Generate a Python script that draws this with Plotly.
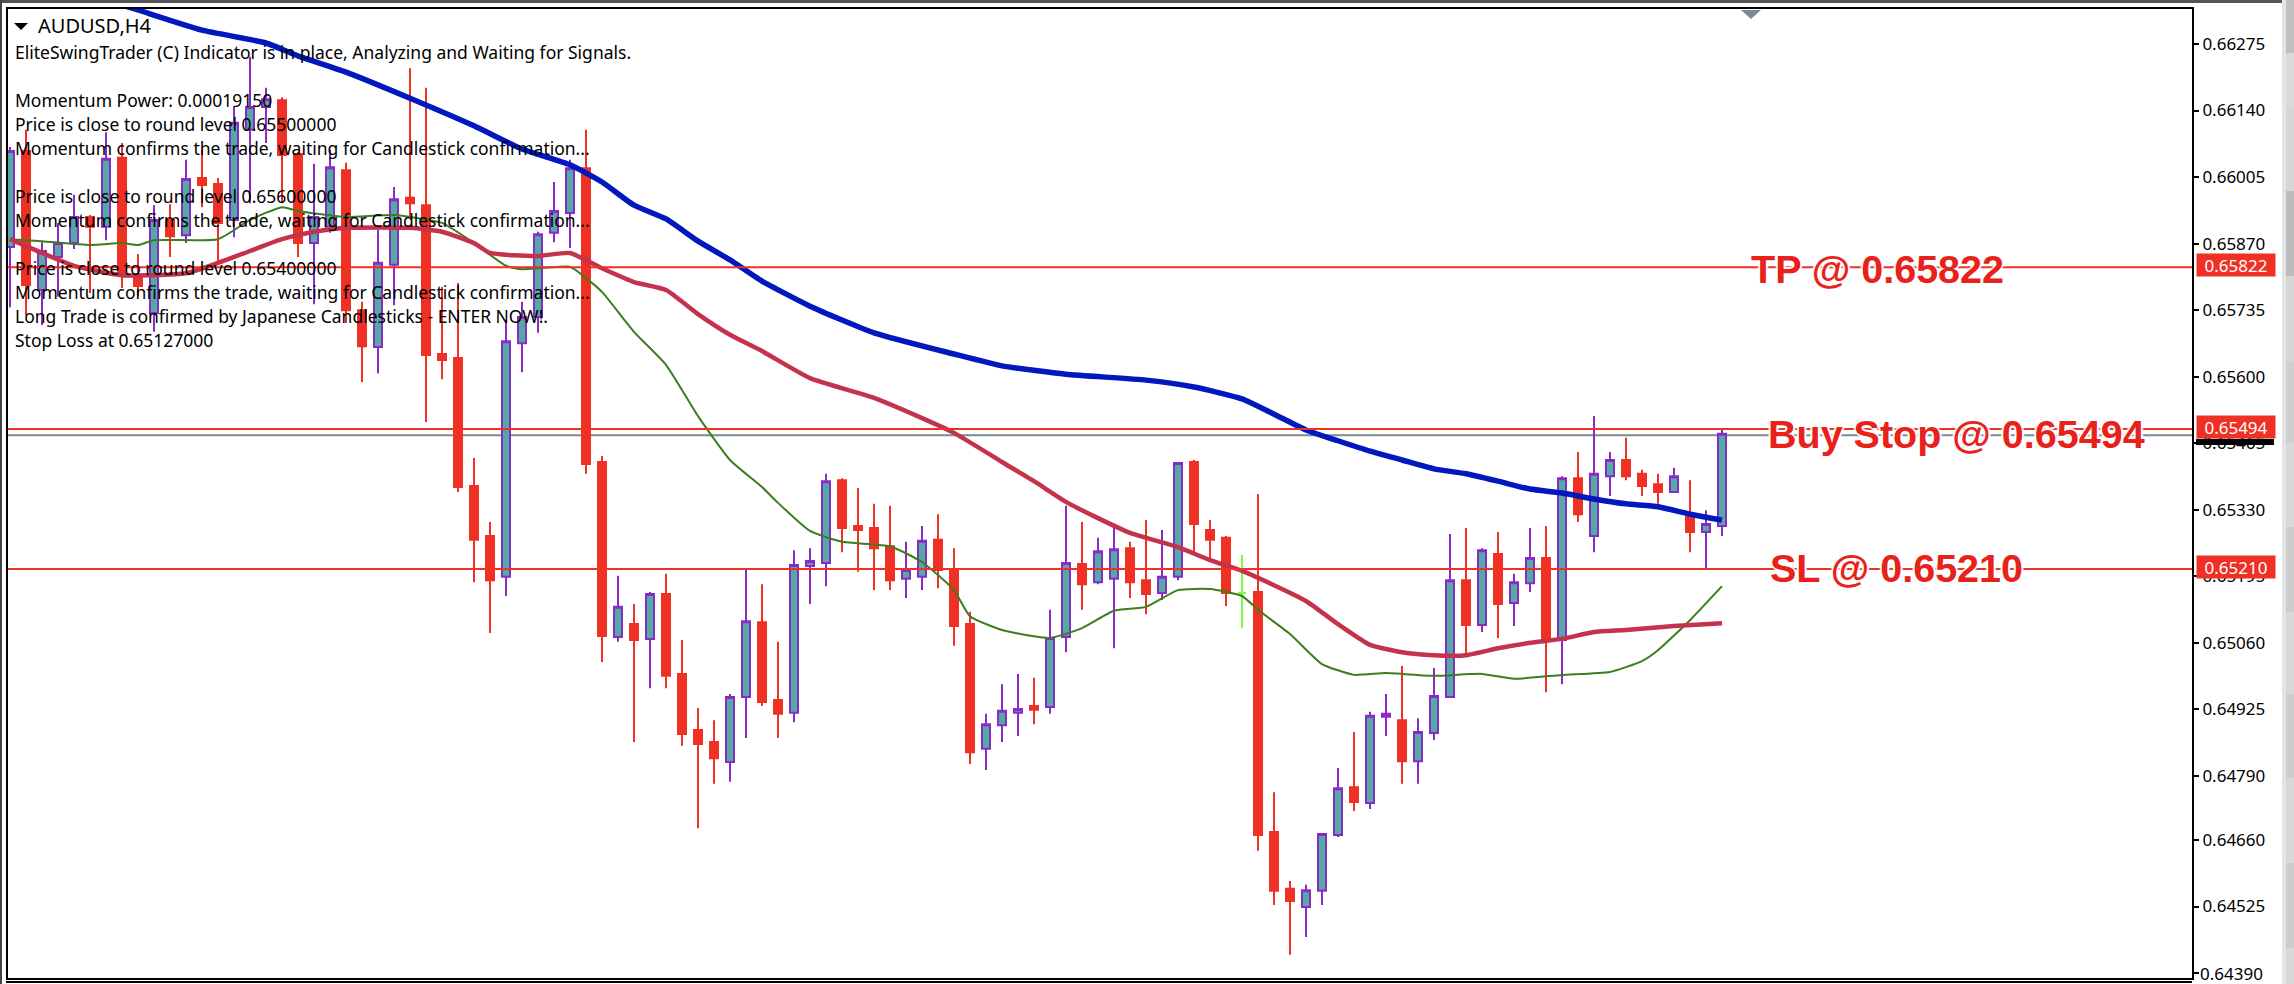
import plotly.graph_objects as go

# AUDUSD H4, one entry per bar
opens = [0.65863, 0.66058, 0.65776, 0.65843, 0.65871, 0.65924, 0.65904, 0.66044, 0.65806, 0.65729,
         0.65918, 0.65887, 0.66003, 0.65991, 0.65918, 0.66101, 0.66147, 0.66161, 0.66052, 0.65871,
         0.65904, 0.66019, 0.65735, 0.65660, 0.65827, 0.65963, 0.65948, 0.65646, 0.65638, 0.65378,
         0.65277, 0.65194, 0.65668, 0.65721, 0.65892, 0.65932, 0.66023, 0.65427, 0.65072, 0.65098,
         0.65068, 0.65159, 0.64997, 0.64883, 0.64859, 0.64818, 0.64950, 0.65102, 0.64944, 0.64918,
         0.65216, 0.65222, 0.65390, 0.65297, 0.65293, 0.65256, 0.65190, 0.65194, 0.65269, 0.65208,
         0.65098, 0.64845, 0.64893, 0.64918, 0.64932, 0.64930, 0.65072, 0.65220, 0.65183, 0.65190,
         0.65252, 0.65187, 0.65161, 0.65194, 0.65427, 0.65289, 0.65273, 0.65161, 0.65163, 0.64676,
         0.64561, 0.64524, 0.64557, 0.64670, 0.64767, 0.64735, 0.64910, 0.64903, 0.64820, 0.64877,
         0.64950, 0.65187, 0.65096, 0.65240, 0.65141, 0.65181, 0.65232, 0.65066, 0.65394, 0.65277,
         0.65398, 0.65431, 0.65403, 0.65382, 0.65366, 0.65317, 0.65285, 0.65297]
highs = [0.66066, 0.66101, 0.65873, 0.65912, 0.65969, 0.65928, 0.66096, 0.66074, 0.65849, 0.65948,
         0.65950, 0.66040, 0.66060, 0.66003, 0.66149, 0.66249, 0.66186, 0.66167, 0.66056, 0.66032,
         0.66060, 0.66034, 0.65752, 0.65898, 0.65985, 0.66226, 0.66186, 0.65782, 0.65790, 0.65435,
         0.65305, 0.65715, 0.65752, 0.65894, 0.65995, 0.66040, 0.66101, 0.65439, 0.65196, 0.65139,
         0.65163, 0.65200, 0.65066, 0.64928, 0.64903, 0.64956, 0.65208, 0.65179, 0.65062, 0.65248,
         0.65252, 0.65403, 0.65394, 0.65374, 0.65342, 0.65338, 0.65265, 0.65297, 0.65321, 0.65252,
         0.65123, 0.64916, 0.64976, 0.64997, 0.64989, 0.65127, 0.65338, 0.65305, 0.65273, 0.65295,
         0.65265, 0.65309, 0.65289, 0.65427, 0.65431, 0.65309, 0.65277, 0.65238, 0.65362, 0.64757,
         0.64577, 0.64569, 0.64672, 0.64806, 0.64879, 0.64920, 0.64956, 0.65013, 0.64907, 0.65009,
         0.65281, 0.65293, 0.65252, 0.65285, 0.65200, 0.65293, 0.65297, 0.65398, 0.65447, 0.65520,
         0.65447, 0.65476, 0.65411, 0.65403, 0.65415, 0.65390, 0.65329, 0.65492]
lows = [0.65741, 0.65725, 0.65705, 0.65762, 0.65859, 0.65770, 0.65877, 0.65780, 0.65764, 0.65691,
        0.65843, 0.65871, 0.65944, 0.65827, 0.65883, 0.65952, 0.66074, 0.65952, 0.65843, 0.65747,
        0.65892, 0.65709, 0.65589, 0.65607, 0.65745, 0.65924, 0.65508, 0.65595, 0.65366, 0.65183,
        0.65080, 0.65155, 0.65609, 0.65689, 0.65873, 0.65861, 0.65403, 0.65021, 0.65062, 0.64859,
        0.64968, 0.64968, 0.64851, 0.64684, 0.64774, 0.64778, 0.64867, 0.64932, 0.64867, 0.64899,
        0.65139, 0.65175, 0.65244, 0.65204, 0.65167, 0.65167, 0.65151, 0.65167, 0.65171, 0.65054,
        0.64814, 0.64802, 0.64859, 0.64871, 0.64895, 0.64916, 0.65041, 0.65127, 0.65179, 0.65049,
        0.65151, 0.65118, 0.65147, 0.65187, 0.65244, 0.65228, 0.65135, 0.65090, 0.64638, 0.64528,
        0.64427, 0.64463, 0.64528, 0.64666, 0.64719, 0.64723, 0.64871, 0.64774, 0.64774, 0.64863,
        0.64950, 0.65037, 0.65082, 0.65070, 0.65094, 0.65163, 0.64960, 0.64976, 0.65305, 0.65244,
        0.65358, 0.65390, 0.65358, 0.65342, 0.65366, 0.65244, 0.65212, 0.65277]
closes = [0.66058, 0.65786, 0.65855, 0.65871, 0.65924, 0.65904, 0.66042, 0.65806, 0.65784, 0.65918,
          0.65885, 0.66001, 0.65989, 0.65912, 0.66115, 0.66147, 0.66163, 0.66050, 0.65871, 0.65924,
          0.66025, 0.65735, 0.65662, 0.65831, 0.65960, 0.65952, 0.65644, 0.65634, 0.65376, 0.65269,
          0.65187, 0.65672, 0.65721, 0.65889, 0.65936, 0.66023, 0.65423, 0.65074, 0.65133, 0.65066,
          0.65159, 0.64993, 0.64875, 0.64855, 0.64826, 0.64950, 0.65104, 0.64940, 0.64916, 0.65218,
          0.65226, 0.65388, 0.65293, 0.65289, 0.65252, 0.65187, 0.65208, 0.65267, 0.65208, 0.65094,
          0.64838, 0.64895, 0.64922, 0.64926, 0.64924, 0.65070, 0.65222, 0.65179, 0.65246, 0.65250,
          0.65183, 0.65159, 0.65194, 0.65425, 0.65301, 0.65269, 0.65161, 0.65161, 0.64670, 0.64557,
          0.64536, 0.64558, 0.64672, 0.64765, 0.64737, 0.64912, 0.64916, 0.64820, 0.64879, 0.64952,
          0.65187, 0.65096, 0.65248, 0.65139, 0.65183, 0.65232, 0.65066, 0.65394, 0.65321, 0.65403,
          0.65431, 0.65398, 0.65378, 0.65366, 0.65398, 0.65285, 0.65301, 0.65484]
doji_bar = 77

# moving averages, read at the bars listed
blue_bars = [7, 8, 12, 16, 18, 21, 25, 29, 32, 35, 37, 39, 41, 43, 45, 47, 50, 54, 59, 62, 66,
             71, 74, 77, 79, 81, 83, 85, 87, 89, 91, 93, 95, 97, 99, 101, 103, 105, 107]
blue_ma = [0.66354, 0.66344, 0.66303, 0.66277, 0.66251, 0.66218, 0.66165, 0.66109, 0.66062,
           0.66030, 0.65995, 0.65948, 0.65920, 0.65875, 0.65837, 0.65794, 0.65743, 0.65689,
           0.65646, 0.65622, 0.65605, 0.65593, 0.65579, 0.65555, 0.65524, 0.65492, 0.65470,
           0.65449, 0.65431, 0.65413, 0.65403, 0.65388, 0.65372, 0.65364, 0.65352, 0.65342,
           0.65336, 0.65321, 0.65309]
red_bars = [0, 2, 4, 7, 11, 13, 15, 17, 19, 21, 25, 27, 29, 30, 33, 35, 37, 39, 41, 43, 45, 47,
            50, 54, 57, 59, 62, 64, 66, 68, 70, 73, 75, 77, 79, 81, 83, 85, 87, 89, 91, 93, 95,
            97, 99, 101, 104, 107]
red_ma = [0.65879, 0.65851, 0.65825, 0.65806, 0.65810, 0.65831, 0.65855, 0.65879, 0.65894,
          0.65902, 0.65902, 0.65894, 0.65871, 0.65851, 0.65845, 0.65851, 0.65820, 0.65792,
          0.65776, 0.65727, 0.65685, 0.65652, 0.65597, 0.65557, 0.65516, 0.65486, 0.65427,
          0.65388, 0.65346, 0.65313, 0.65283, 0.65254, 0.65228, 0.65206, 0.65177, 0.65145,
          0.65098, 0.65056, 0.65041, 0.65035, 0.65035, 0.65049, 0.65060, 0.65068, 0.65082,
          0.65086, 0.65094, 0.65100]
green_bars = [0, 2, 5, 7, 8, 9, 13, 15, 17, 18, 21, 24, 27, 29, 31, 32, 35, 36, 37, 39, 41, 43,
              45, 47, 48, 50, 52, 55, 57, 59, 60, 62, 65, 67, 69, 71, 73, 75, 77, 78, 80, 82,
              84, 86, 89, 92, 94, 97, 100, 102, 103, 105, 107]
green_ma = [0.65879, 0.65875, 0.65867, 0.65871, 0.65867, 0.65877, 0.65879, 0.65918, 0.65944,
            0.65936, 0.65924, 0.65928, 0.65912, 0.65871, 0.65825, 0.65818, 0.65823, 0.65800,
            0.65772, 0.65691, 0.65624, 0.65520, 0.65431, 0.65376, 0.65344, 0.65287, 0.65265,
            0.65256, 0.65224, 0.65167, 0.65114, 0.65086, 0.65070, 0.65090, 0.65125, 0.65133,
            0.65167, 0.65169, 0.65155, 0.65127, 0.65078, 0.65017, 0.64995, 0.64999, 0.64993,
            0.64997, 0.64987, 0.64995, 0.65001, 0.65023, 0.65045, 0.65106, 0.65175]

y_ticks = [0.66275, 0.66140, 0.66005, 0.65870, 0.65735, 0.65600, 0.65465, 0.65330, 0.65195,
           0.65060, 0.64925, 0.64790, 0.64660, 0.64525, 0.64390]
red_levels = [0.65822, 0.65494, 0.65210]
level_labels = ['TP @ 0.65822', 'Buy Stop @ 0.65494', 'SL @ 0.65210']
level_label_bars = [108.7, 109.75, 109.85]
level_label_shifts = [-2, -5, 1]
grey_level = 0.65481

info_lines = ['EliteSwingTrader (C) Indicator is in place, Analyzing and Waiting for Signals.',
              '', 'Momentum Power: 0.00019150',
              'Price is close to round level 0.65500000',
              'Momentum confirms the trade, waiting for Candlestick confirmation...',
              '', 'Price is close to round level 0.65600000',
              'Momentum confirms the trade, waiting for Candlestick confirmation...',
              '', 'Price is close to round level 0.65400000',
              'Momentum confirms the trade, waiting for Candlestick confirmation...',
              'Long Trade is confirmed by Japanese Candlesticks - ENTER NOW!.',
              'Stop Loss at 0.65127000']

RED = '#EE3124'
TEAL = '#52ABA3'
PURPLE = '#8A2BC8'
LIME = '#7CFC3C'
GREY = '#7A8A96'
W, H = 2294, 984
LEFT, RIGHT, TOP, BOTTOM = 8, 2192, 9, 978
TEXT_FONT = 'Noto Sans'


def px(x):
    return (x - LEFT) / (RIGHT - LEFT)


def py(y):
    return (BOTTOM - y) / (BOTTOM - TOP)


def rect(x0, y0, x1, y1, color):
    return dict(type='rect', xref='paper', yref='paper', x0=px(x0), x1=px(x1), y0=py(y0), y1=py(y1),
                fillcolor=color, line_width=0, layer='above')


bars = [i for i in range(len(opens)) if i != doji_bar]
fig = go.Figure()
fig.add_trace(go.Candlestick(
    x=bars,
    open=[opens[i] for i in bars], high=[highs[i] for i in bars],
    low=[lows[i] for i in bars], close=[closes[i] for i in bars],
    whiskerwidth=0,
    increasing=dict(line=dict(color=PURPLE, width=2), fillcolor=TEAL),
    decreasing=dict(line=dict(color=RED, width=2), fillcolor=RED),
))
fig.add_trace(go.Candlestick(
    x=[doji_bar], open=[opens[doji_bar]], high=[highs[doji_bar]],
    low=[lows[doji_bar]], close=[closes[doji_bar]],
    whiskerwidth=0,
    increasing=dict(line=dict(color=LIME, width=2), fillcolor=LIME),
    decreasing=dict(line=dict(color=LIME, width=2), fillcolor=LIME),
))
fig.add_trace(go.Scatter(x=green_bars, y=green_ma, mode='lines',
                         line=dict(color='#3C7D1E', width=2, shape='spline', smoothing=0.5)))
fig.add_trace(go.Scatter(x=red_bars, y=red_ma, mode='lines',
                         line=dict(color='#C4324B', width=4.5, shape='spline', smoothing=0.5)))
fig.add_trace(go.Scatter(x=blue_bars, y=blue_ma, mode='lines',
                         line=dict(color='#0018BE', width=5.5, shape='spline', smoothing=0.5)))

shapes = [dict(type='line', xref='paper', x0=0, x1=1, y0=grey_level, y1=grey_level,
               line=dict(color=GREY, width=2), layer='below')]
for level in red_levels:
    shapes.append(dict(type='line', xref='paper', x0=0, x1=1, y0=level, y1=level,
                       line=dict(color=RED, width=2), layer='above'))

# terminal window bits around the chart
shapes += [
    rect(0, 0, 2282, 3, '#555555'),
    rect(0, 0, 2, H, '#444444'),
    rect(6, 981, 2192, 983, '#000000'),
    rect(2196, 439, 2274, 445, '#000000'),
    rect(2282, 0, 2286, H, '#E4E4E4'),
]
band_edges = [0, 53, 107, 191, 276, 361, 443, 527, 612, 694, 778, 863, 948, 984]
band_colors = ['#C0C0C0', '#DADADA', '#D6D6D6', '#BCBCBC', '#D6D6D6', '#CFCFCF', '#D8D8D8',
               '#CDCDCD', '#D8D8D8', '#CDCDCD', '#D8D8D8', '#CDCDCD', '#D8D8D8']
for k in range(len(band_colors)):
    shapes.append(rect(2286, band_edges[k], 2294, band_edges[k + 1], band_colors[k]))


def tri(x0, x1, y0, y1, color):
    return dict(type='path', xref='paper', yref='paper', fillcolor=color, line_width=0, layer='above',
                path='M %f %f L %f %f L %f %f Z' % (px(x0), py(y0), px(x1), py(y0), px((x0 + x1) / 2), py(y1)))


shapes.append(tri(14, 28, 23, 30, '#000000'))
shapes.append(tri(1741, 1761, 10, 19, GREY))

annotations = [dict(text='AUDUSD,H4', xref='paper', yref='paper', x=px(36), y=py(25), xanchor='left',
                    yanchor='middle', showarrow=False, font=dict(family=TEXT_FONT, size=20, color='black'))]
line_y = 52
for k, line in enumerate(info_lines):
    if line:
        annotations.append(dict(text=line, xref='paper', yref='paper', x=px(13), y=py(line_y + k * 24),
                                xanchor='left', yanchor='middle', showarrow=False,
                                font=dict(family=TEXT_FONT, size=17.5, color='black')))

halo = '-2px 0 1px #fff, 2px 0 1px #fff, 0 -2px 1px #fff, 0 2px 1px #fff'
for level, label, bar, shift in zip(red_levels, level_labels, level_label_bars, level_label_shifts):
    annotations.append(dict(text=label, x=bar, y=level, xanchor='left', yanchor='middle', showarrow=False,
                            yshift=shift,
                            font=dict(family='Liberation Sans', size=39.5, color='#E8221A', weight='bold', shadow=halo)))
    annotations.append(dict(text='%.5f' % level, xref='paper', x=px(2196), y=level, xanchor='left', yanchor='middle',
                            showarrow=False, yshift=2, width=78, height=22, bgcolor=RED, borderpad=0,
                            font=dict(family=TEXT_FONT, size=17, color='white')))

# the lowest tick label sits on the page edge, plotly drops it as a tick label
tick_labels = ['%.5f' % v for v in y_ticks]
annotations.append(dict(text=tick_labels[-1], xref='paper', x=px(2198), y=y_ticks[-1], xanchor='left', yanchor='middle',
                        showarrow=False, font=dict(family=TEXT_FONT, size=17, color='black')))

fig.update_layout(
    width=W, height=H,
    margin=dict(l=LEFT, r=W - RIGHT, t=TOP, b=H - BOTTOM, pad=0),
    paper_bgcolor='white', plot_bgcolor='white',
    showlegend=False, boxmode='overlay', boxgap=0.5, boxgroupgap=0,
    shapes=shapes, annotations=annotations,
    xaxis=dict(range=[-0.125, 136.375], rangeslider_visible=False, showgrid=False, zeroline=False,
               showticklabels=False, ticks='', showline=True, mirror=True, linecolor='black', linewidth=2),
    yaxis=dict(range=[0.64380, 0.66346], side='right', tickvals=y_ticks, ticktext=tick_labels[:-1] + [''],
               showgrid=False, zeroline=False, ticks='outside', ticklen=5, tickwidth=2, tickcolor='black',
               showline=True, mirror=True, linecolor='black', linewidth=2,
               tickfont=dict(family=TEXT_FONT, size=17, color='black')),
)

fig.write_html("out.html", config=dict(displayModeBar=False),
               post_script="document.body.style.margin='0';document.body.style.overflow='hidden';")
